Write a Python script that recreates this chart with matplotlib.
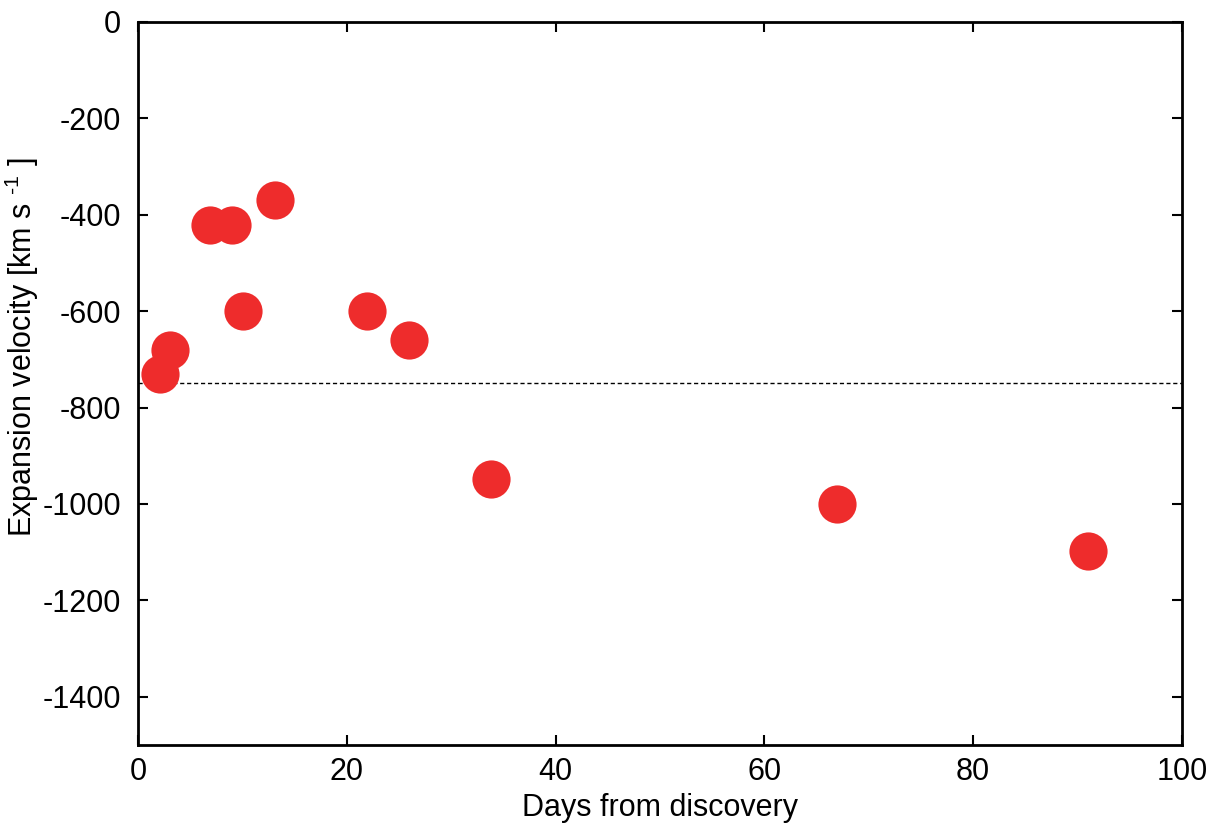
import matplotlib
matplotlib.use("Agg")
import matplotlib.pyplot as plt
from matplotlib.ticker import FuncFormatter

plt.rcParams['font.family'] = ['Liberation Sans', 'DejaVu Sans']
plt.rcParams['mathtext.fontset'] = 'custom'
plt.rcParams['mathtext.rm'] = 'Liberation Sans'
plt.rcParams['mathtext.it'] = 'Liberation Sans'

days = [2.1, 3.1, 6.9, 9.0, 10.1, 13.1, 21.9, 26.0, 33.8, 67.0, 91.0]
velocity = [-730, -680, -421, -421, -600, -369, -600, -660, -948, -1000, -1097]
ref_velocity = -750
xticks = [0, 20, 40, 60, 80, 100]
yticks = [0, -200, -400, -600, -800, -1000, -1200, -1400]

fig = plt.figure(figsize=(12.17, 8.27), dpi=100)
ax = fig.add_axes([0.1134, 0.0992, 0.9712 - 0.1134, 0.9734 - 0.0992])

ax.axhline(ref_velocity, color='black', lw=1.0, ls=(0, (3, 2)), zorder=1)
ax.plot(days, velocity, 'o', color='#EE2C2C', markersize=27.5, markeredgewidth=0, zorder=3)

ax.set_xlim(0, 100)
ax.set_ylim(-1500, 0)
ax.set_xticks(xticks)
ax.set_yticks(yticks)
ax.yaxis.set_major_formatter(FuncFormatter(lambda v, p: f"{int(v)}"))
ax.xaxis.set_major_formatter(FuncFormatter(lambda v, p: f"{int(v)}"))
ax.tick_params(direction='in', length=7, width=1.5, labelsize=22, top=True, right=True)
ax.tick_params(axis='y', pad=12)
ax.tick_params(axis='x', pad=9)
for s in ax.spines.values():
    s.set_linewidth(2)

ax.set_xlabel('Days from discovery', fontsize=22, labelpad=4)
ax.set_ylabel(r'Expansion velocity [km s $^{\text{-1}}$ ]', fontsize=22)
ax.yaxis.set_label_coords(-0.093, 0.55)

fig.savefig('out.png', dpi=100)
